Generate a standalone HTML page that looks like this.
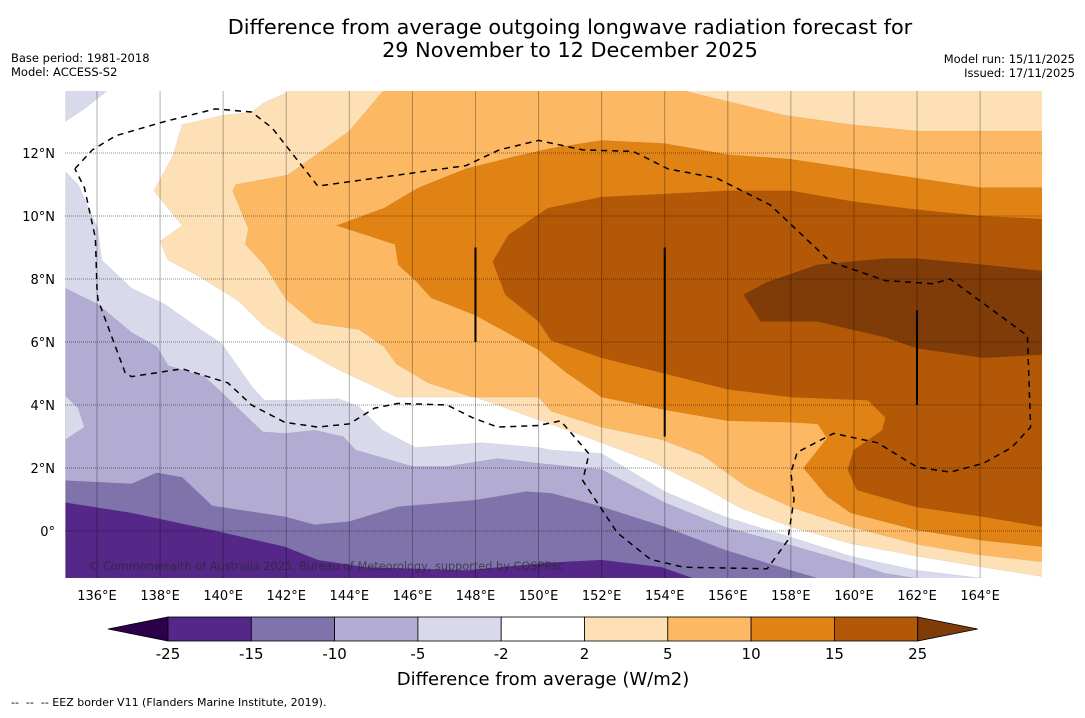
<!DOCTYPE html>
<html><head><meta charset="utf-8"><style>
body{margin:0;background:#fff;width:1085px;height:713px;overflow:hidden;font-family:"Liberation Sans","DejaVu Sans",sans-serif}
svg text{font-family:"DejaVu Sans","Liberation Sans",sans-serif}
</style></head><body>
<svg id="chart" width="1085" height="713" viewBox="0 0 1085 713" xmlns="http://www.w3.org/2000/svg">
<defs><clipPath id="mapclip"><rect x="65" y="91" width="977" height="487"/></clipPath></defs>
<text x="570" y="34" font-size="20.8" text-anchor="middle" fill="#000">Difference from average outgoing longwave radiation forecast for</text>
<text x="570" y="57" font-size="20.8" text-anchor="middle" fill="#000">29 November to 12 December 2025</text>
<text x="11" y="62" font-size="11.5">Base period: 1981-2018</text>
<text x="11" y="76" font-size="11.5">Model: ACCESS-S2</text>
<text x="1075" y="63" font-size="11.5" text-anchor="end">Model run: 15/11/2025</text>
<text x="1075" y="77" font-size="11.5" text-anchor="end">Issued: 17/11/2025</text>
<g id="map" clip-path="url(#mapclip)"></g>
<g id="axes"></g>
<g id="cbar"></g>
<text x="543" y="685" font-size="18" text-anchor="middle">Difference from average (W/m2)</text>
<text x="11" y="706" font-size="11" style="white-space:pre" xml:space="preserve">--  --  -- EEZ border V11 (Flanders Marine Institute, 2019).</text>
</svg>
<script>
const lonTicks=[136,138,140,142,144,146,148,150,152,154,156,158,160,162,164];
const latTicks=[0,2,4,6,8,10,12];
const levels=[-25,-15,-10,-5,-2,2,5,10,15,25];
const levelColors=['#542788','#8073ac','#b2abd2','#d8daeb','#ffffff','#fee0b6','#fdb863','#e08214','#b35806'];
const underColor='#2d004b', overColor='#7f3b08';
const neg2Line=[[135,11.4],[135.4,11],[136.03,9.6],[136.15,8.6],[137.1,7.7],[138.15,7.2],[139.2,6.45],[139.95,5.95],[140.9,4.6],[141.3,4.15],[142.2,4.15],[143.65,4.2],[144.3,3.95],[145.05,3.2],[146.1,2.65],[148.2,2.8],[150,2.65],[150.4,2.57],[152,2.46],[154,1.25],[155.9,0.45],[158,-0.2],[159.9,-0.8],[162,-1.25],[164.1,-1.5]];
const neg2Corner=[[135,14],[136.35,14],[135.6,13.4],[135,13]];
const neg5Line=[[135,7.7],[136.03,7.2],[137.1,6.3],[137.9,5.85],[138.25,5.25],[139.4,4.9],[139.95,4.4],[141.25,3.15],[141.95,3.1],[142.9,3.2],[143.8,3.0],[144.2,2.57],[146,2.05],[147.1,2.05],[148.7,2.3],[150,2.15],[152,1.95],[154,0.9],[155.9,0.13],[158,-0.45],[159.9,-1.0],[161,-1.35],[162,-1.5]];
const neg5Patch=[[135,4.3],[135.4,3.9],[135.6,3.3],[135,2.9]];
const neg10Line=[[135,1.6],[137.1,1.5],[137.9,1.85],[138.7,1.7],[139.65,0.8],[141.95,0.45],[142.9,0.2],[144,0.3],[145.55,0.77],[148,0.98],[149.6,1.25],[150.4,1.2],[152,0.77],[154,0.13],[155.9,-0.6],[158,-1.25],[158.85,-1.5]];
const neg15Line=[[135,0.9],[137.1,0.57],[139.65,0.03],[141.95,-0.5],[143,-0.92],[144.5,-1.15],[147.7,-1.25],[150.4,-1.0],[152,-0.92],[153.9,-1.15],[154.9,-1.5]];
const pos2Line=[[142.2,14],[141.3,13.6],[140.9,13.3],[140,13.2],[138.7,12.9],[138.4,11.9],[137.8,10.8],[138.7,9.7],[138,9.2],[138.25,8.6],[139.2,8.1],[140.5,7.3],[141.3,6.5],[142,6.05],[143.5,5.2],[145.5,4.25],[148,4.25],[150.5,3.35],[152,2.8],[153.6,2.2],[155.2,1.4],[156.4,0.73],[158,0.13],[159.9,-0.4],[162,-0.8],[164.1,-1.15],[166,-1.45],[166,14]];
const pos5Line=[[145.1,14],[144,12.7],[143.1,12.05],[142.05,11.3],[140.4,11.0],[140.3,10.8],[140.8,9.6],[140.7,9.1],[141.3,8.45],[142,7.35],[142.9,6.6],[144.3,6.4],[145.1,5.85],[145.5,5.3],[146.5,4.7],[147.9,4.25],[150,4.25],[150.4,3.8],[152,3.3],[153.9,2.9],[155.2,2.4],[156.6,1.4],[158,0.76],[159.9,0.13],[162.1,-0.44],[164,-0.76],[166,-0.98],[166,12.7],[164,12.7],[162,12.7],[159.9,12.9],[157.8,13.2],[154.5,14]];
const pos10Line=[[143.6,9.7],[145.1,10.25],[146.2,10.9],[147.7,11.5],[149.3,11.9],[150.4,12.15],[152,12.4],[154,12.3],[156,11.95],[158,11.8],[160,11.5],[162,11.2],[164,10.9],[166,10.9],[166,-0.5],[164.1,-0.3],[162,0.03],[159.9,0.57],[159.15,1.1],[158.4,2.0],[159.15,2.95],[158.85,3.4],[158,3.45],[156,3.5],[154,3.85],[152,4.25],[150.85,5.05],[150,5.75],[148,6.85],[146.6,7.4],[146.1,7.95],[145.55,8.45],[145.45,9.1]];
const pos15Line=[[148.55,8.55],[149.05,9.4],[150.3,10.25],[152,10.6],[154,10.7],[156,10.8],[158,10.8],[160,10.45],[162,10.2],[164,10.0],[166,9.9],[166,0.13],[164.1,0.45],[162,0.76],[160.1,1.3],[159.8,1.95],[160,2.57],[160.9,3.2],[161,3.6],[160.45,4.15],[158,4.25],[156,4.5],[154,5.0],[152,5.5],[150.4,6.05],[150,6.65],[148.95,7.5]];
const pos25Line=[[156.5,7.5],[157.25,7.9],[158.85,8.45],[161,8.65],[162,8.65],[164.1,8.45],[166,8.25],[166,5.6],[164.1,5.5],[162,5.8],[161,6.15],[158.85,6.65],[157.05,6.65]];
const eezLine=[[135.3,11.5],[135.85,12.1],[136.6,12.55],[138.15,13.0],[139.75,13.4],[140.9,13.3],[141.55,12.8],[143,10.95],[145.55,11.3],[147.7,11.6],[148.75,12.1],[150,12.4],[151.4,12.1],[153,12.05],[154.1,11.5],[155.65,11.2],[157.35,10.35],[159.25,8.55],[161,7.95],[162.5,7.85],[163.05,8.0],[165.5,6.2],[165.6,3.3],[165,2.65],[164.1,2.15],[163.05,1.87],[162,2.03],[160.75,2.8],[159.35,3.1],[158.2,2.5],[158,1.85],[158.1,1.0],[157.9,-0.3],[157.25,-1.2],[154.6,-1.15],[153.55,-0.9],[152.5,-0.06],[151.4,1.6],[151.6,2.45],[150.7,3.5],[150,3.35],[148.7,3.3],[147.9,3.6],[147.1,4.0],[145.55,4.05],[144.8,3.9],[144,3.4],[143,3.3],[141.95,3.45],[140.9,4.0],[140.15,4.7],[138.7,5.15],[137.1,4.9],[136.9,5.0],[136.03,7.35],[136.0,7.7],[135.95,9.3],[135.6,10.9],[135.3,11.5]];
const transectLons=[148,154,162];
const transectTop=[9,9,7];
const transectBottom=[6,3,4];

const NS='http://www.w3.org/2000/svg';
const X=lon=>97+(lon-136)*31.54;
const Y=lat=>531-lat*31.5;
function mk(tag,parent){const e=document.createElementNS(NS,tag);parent.appendChild(e);return e;}
function pts(arr){return arr.map(p=>X(p[0]).toFixed(1)+','+Y(p[1]).toFixed(1)).join(' ');}
const map=document.getElementById('map');
let bg=mk('rect',map);bg.setAttribute('x',65);bg.setAttribute('y',91);bg.setAttribute('width',977);bg.setAttribute('height',487);bg.setAttribute('fill','#fff');


function band(arr,extra,color,name){
  const p=mk('polygon',map);
  p.setAttribute('points',pts(arr.concat(extra)));
  p.setAttribute('fill',color);p.setAttribute('stroke',color==='#ffffff'?'none':'rgba(0,0,0,0.08)');p.setAttribute('stroke-width','0.6');
  
  
}
const BL=[[135,-1.5]];
band(neg2Line,BL,levelColors[3],'band-minus2-to-minus5');
band(neg2Corner,[],levelColors[3],'band-minus2-corner');
band(neg5Line,BL,levelColors[2],'band-minus5-to-minus10');
band(neg5Patch,[],levelColors[3],'band-minus2-patch');
band(neg10Line,BL,levelColors[1],'band-minus10-to-minus15');
band(neg15Line,BL,levelColors[0],'band-minus15-to-minus25');
band(pos2Line,[],levelColors[5],'band-2-to-5');
band(pos5Line,[],levelColors[6],'band-5-to-10');
band(pos10Line,[],levelColors[7],'band-10-to-15');
band(pos15Line,[],levelColors[8],'band-15-to-25');
band(pos25Line,[],overColor,'band-above-25');
lonTicks.forEach(l=>{const g=mk('line',map);g.setAttribute('x1',X(l));g.setAttribute('x2',X(l));g.setAttribute('y1',91);g.setAttribute('y2',578);g.setAttribute('stroke','rgba(0,0,0,0.3)');g.setAttribute('stroke-width','1');

});
latTicks.forEach(l=>{const g=mk('line',map);g.setAttribute('x1',65);g.setAttribute('x2',1042);g.setAttribute('y1',Y(l));g.setAttribute('y2',Y(l));g.setAttribute('stroke','rgba(0,0,0,0.45)');g.setAttribute('stroke-dasharray','1,1');

});
const eez=mk('polyline',map);eez.setAttribute('points',pts(eezLine));eez.setAttribute('fill','none');eez.setAttribute('stroke','#000');eez.setAttribute('stroke-width','1.5');eez.setAttribute('stroke-dasharray','6,5');


transectLons.forEach((l,i)=>{const t=mk('line',map);t.setAttribute('x1',X(l));t.setAttribute('x2',X(l));t.setAttribute('y1',Y(transectTop[i]));t.setAttribute('y2',Y(transectBottom[i]));t.setAttribute('stroke','#000');t.setAttribute('stroke-width','2');

});
const cp=mk('text',map);cp.textContent='© Commonwealth of Australia 2025, Bureau of Meteorology, supported by COSPPac';cp.setAttribute('x',88);cp.setAttribute('y',570);cp.setAttribute('font-size','11.3');cp.setAttribute('fill','rgba(40,40,40,0.7)');


const axes=document.getElementById('axes');
lonTicks.forEach(l=>{const t=mk('text',axes);t.textContent=l+'°E';t.setAttribute('x',X(l));t.setAttribute('y',600);t.setAttribute('font-size','13');t.setAttribute('text-anchor','middle');

});
latTicks.forEach(l=>{const t=mk('text',axes);t.textContent=l===0?'0°':l+'°N';t.setAttribute('x',55);t.setAttribute('y',Y(l)+5);t.setAttribute('font-size','13');t.setAttribute('text-anchor','end');

});
const cb=document.getElementById('cbar');
const cx0=168,cw=83.3,cy=617,ch=24;
const lt=mk('polygon',cb);lt.setAttribute('points',`108,${cy+ch/2} ${cx0},${cy} ${cx0},${cy+ch}`);lt.setAttribute('fill',underColor);lt.setAttribute('stroke','#000');lt.setAttribute('stroke-width','0.8');


levelColors.forEach((c,i)=>{const r=mk('rect',cb);r.setAttribute('x',cx0+i*cw);r.setAttribute('y',cy);r.setAttribute('width',cw);r.setAttribute('height',ch);r.setAttribute('fill',c);r.setAttribute('stroke','#000');r.setAttribute('stroke-width','0.8');

});
const xe=cx0+levelColors.length*cw;
const rt=mk('polygon',cb);rt.setAttribute('points',`${xe},${cy} ${xe+60},${cy+ch/2} ${xe},${cy+ch}`);rt.setAttribute('fill',overColor);rt.setAttribute('stroke','#000');rt.setAttribute('stroke-width','0.8');


levels.forEach((v,i)=>{const t=mk('text',cb);t.textContent=v;t.setAttribute('x',cx0+i*cw);t.setAttribute('y',659);t.setAttribute('font-size','15');t.setAttribute('text-anchor','middle');

});
</script>
</body></html>
